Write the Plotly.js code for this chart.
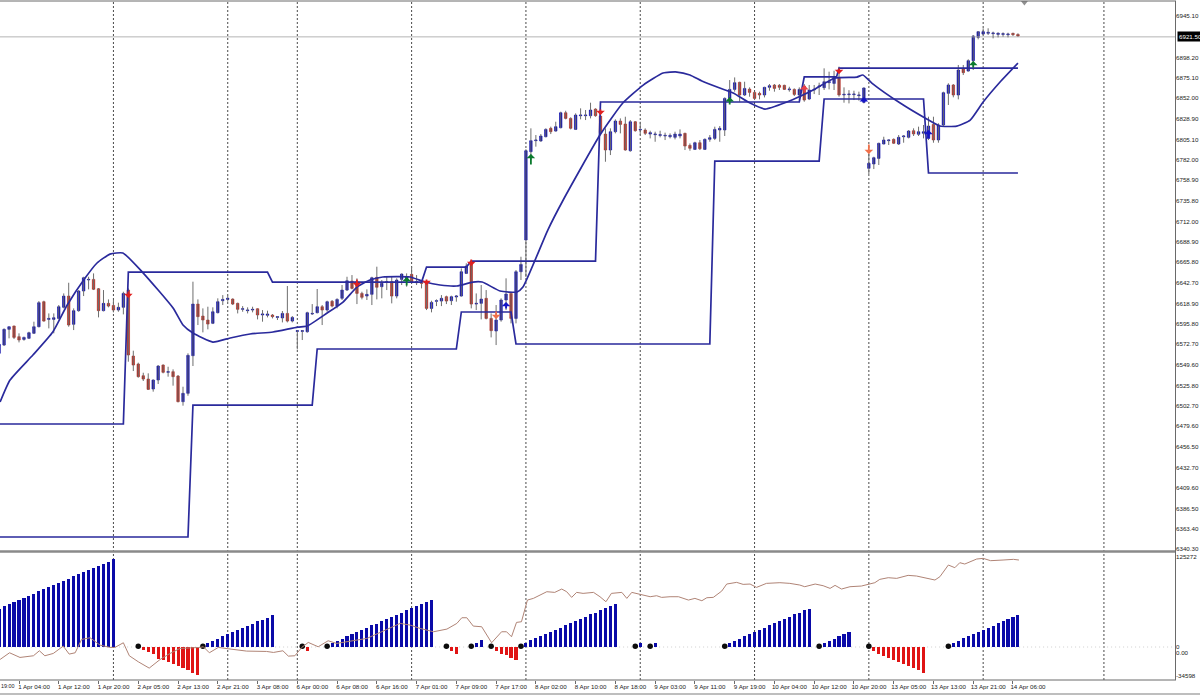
<!DOCTYPE html>
<html><head><meta charset="utf-8">
<script src="https://cdn.plot.ly/plotly-3.0.1.min.js"></script>
<style>html,body{margin:0;padding:0;background:#fff}#c{width:1200px;height:696px}</style>
</head><body><div id="c"></div>
<script>
const open=[6562.4,6571.8,6589.6,6593.4,6581.3,6578.2,6579.4,6585.1,6592.6,6621,
6600.9,6600.9,6602,6614.6,6627.4,6595.3,6610.8,6633.1,6645.6,6646.3,
6635.7,6610.8,6619.1,6616.8,6611.5,6614.6,6634.2,6559.3,6550.3,6537,
6533.2,6521.9,6532.1,6549.1,6540.8,6541.6,6536.6,6507.5,6517,6559.7,
6618.3,6604.7,6600.2,6596.4,6608.5,6622.1,6623.6,6624,6619.1,6612.3,
6610.8,6611.5,6613,6605.9,6605.5,6605.9,6603.2,6602.5,6607.7,6599,
6587.3,6587.3,6586.9,6607,6608.5,6615.3,6611.5,6621.4,6616,6624.8,
6634.2,6644.4,6643.7,6630.4,6627.4,6629.3,6648.6,6638,6642.9,6643.7,
6627.4,6646.3,6645.6,6652,6642.5,6642.9,6643.7,6613.4,6621.4,6621.7,
6626.7,6622.1,6626.3,6627.4,6653.1,6666.4,6618.3,6619.1,6624.8,6602,
6587.7,6600.2,6622.9,6630.4,6602,6655,6691,6791.2,6803.7,6803.3,
6808.2,6817.7,6814.6,6818.4,6835.4,6829,6816.5,6832,6832,6832,
6839.6,6831.6,6811.2,6793.1,6813.9,6826,6822.6,6792.3,6825.2,6815.8,
6815.8,6811.2,6810.5,6809.7,6809,6808.2,6807.5,6809,6812,6798.4,
6793.8,6801.4,6793.8,6805.2,6806.3,6815.8,6815.8,6851.7,6861.9,6869.9,
6855.5,6862.3,6858.5,6857.4,6855.5,6864.2,6866.8,6866.5,6866.5,6861.5,
6861.9,6855.5,6865.7,6851,6861.2,6865,6863.8,6869.5,6868.7,6875.6,
6855.5,6855.9,6855.9,6854.8,6847.2,6772.3,6777.2,6783.6,6799.9,6803.7,
6805.2,6799.9,6808.2,6807.5,6815,6810.9,6812,6806.3,6822.2,6804.5,
6821.5,6857.4,6866.9,6855.5,6885,6882.7,6894.5,6920.9,6924.7,6925.5,
6925.1,6924.3,6924.3,6923.9,6925.5,6924.3];
const close=[6572.6,6589.6,6592.6,6580.5,6577.5,6580.5,6585.8,6592.6,6619.9,6599,
6602,6602.8,6615.3,6627.4,6594.5,6610.8,6633.1,6648.2,6646.3,6635,
6610.8,6619.1,6616,6611.5,6614.6,6630.4,6560.5,6549.1,6535.9,6533.2,
6521.5,6532.1,6548,6540.8,6541.6,6535.9,6507.5,6517,6560.1,6618.3,
6604,6600.2,6595.6,6609.6,6621,6623.6,6624.8,6618.3,6612.3,6613,
6611.5,6612.3,6605.9,6607,6607,6604,6604,6607.7,6599,6603.2,
6588.1,6588.1,6608.5,6607.7,6615.3,6611.5,6621,6616,6623.6,6634.2,
6644.8,6636.1,6630.4,6625.9,6629.3,6648.2,6637.3,6641.8,6643.7,6627.4,
6645.6,6652.4,6649.3,6642.9,6643.7,6641.8,6613.4,6620.2,6622.1,6624.8,
6621.7,6626.7,6627.4,6655,6661.4,6618.3,6619.1,6624,6602,6588.1,
6600.2,6622.9,6629.7,6602,6655,6663.3,6792.3,6803.7,6804.4,6809,
6816.5,6813.9,6819.6,6835.4,6829,6817.7,6832.8,6832.8,6832.8,6838.5,
6832,6812.8,6793.1,6813.9,6826,6822.2,6793.1,6825.2,6815,6816.5,
6812,6812.8,6811.2,6810.5,6809.7,6809.7,6811.2,6811.2,6797.6,6795,
6801.4,6794.6,6805.2,6807.1,6816.5,6817.7,6851.7,6861.9,6869.5,6855.5,
6863,6858.5,6851.7,6855.5,6864.2,6866.1,6863,6864.2,6861.9,6862.3,
6856.2,6861.9,6849.8,6861.2,6861.9,6865.7,6870.6,6870.6,6875.6,6855.5,
6856.3,6856.6,6856.6,6855.5,6863.5,6778,6784.4,6800.7,6804.5,6804.5,
6800.7,6807.5,6809,6814.7,6811.3,6813.9,6813.9,6820.3,6804.5,6821.5,
6858.2,6866.9,6855.5,6883.9,6880.9,6894.5,6922.5,6927.4,6927.4,6926.6,
6925.9,6925.5,6925.1,6924.7,6924,6922.4];
const high=[6573.7,6590.7,6592.6,6593.8,6585.1,6581.3,6586.9,6598.3,6621.7,6622.1,
6607.7,6607.7,6617.2,6630.4,6642.5,6613.4,6634.2,6649.3,6649.3,6653.1,
6636.5,6634.2,6623.6,6622.9,6619.9,6632.3,6636.1,6565.4,6551.8,6540.4,
6539.7,6532.9,6549.1,6549.9,6547.2,6544.2,6537.8,6524.5,6562.4,6643.7,
6623.6,6613.4,6615.3,6614.6,6624.8,6628.5,6627.8,6624.8,6619.9,6616,
6614.6,6615.3,6613.4,6611.5,6610.8,6607,6604.7,6610.4,6638.8,6604.7,
6588.8,6588.8,6609.6,6618.3,6635.4,6617.2,6622.1,6622.9,6624.8,6639.9,
6649.3,6651.2,6647.5,6632.3,6635,6649.3,6660.7,6645.6,6649.3,6649.3,
6647.5,6653.1,6653.1,6660.7,6651.2,6645.6,6645.6,6622.1,6623.6,6628.5,
6627.8,6627.8,6628.5,6658.8,6664.5,6668.3,6630.4,6639.9,6634.2,6607.7,
6617.2,6624.8,6647.5,6632.3,6656.9,6672,6794,6817.7,6810.1,6811.2,
6817.7,6819.6,6825.2,6836.6,6837.7,6830.2,6834.7,6840.4,6838.5,6846.8,
6840.4,6847.9,6817.7,6817.7,6827.9,6829,6830.9,6827.1,6826,6825.2,
6817.7,6815,6813.9,6815,6812.8,6812,6813.9,6816.5,6812.8,6800.6,
6802.5,6804.4,6806.3,6810.1,6819.6,6820.3,6852.8,6872.5,6875.5,6870.6,
6870.6,6864.2,6859.3,6859.3,6864.9,6868,6868,6868,6867.2,6864.9,
6863,6864.2,6868,6866.9,6866.9,6869.5,6885.8,6882,6883.1,6887.7,
6864.2,6861,6860.4,6859.3,6864.2,6789.3,6785.5,6801.4,6808.2,6805.2,
6806.3,6810.1,6810.1,6815.8,6817.7,6819.6,6821.5,6830.9,6830.9,6823.4,
6859.3,6868.8,6868,6889.6,6889.6,6896,6923.6,6928.1,6931.2,6931.2,
6927.4,6926.6,6926.6,6926.2,6926.2,6925.5];
const low=[6560.5,6570.7,6579.4,6578.6,6574.8,6576.7,6578.6,6584.3,6591.9,6598.3,
6590.7,6585.1,6600.9,6613.4,6592.6,6588.8,6609.6,6627.4,6635,6634.2,
6603.2,6610,6614.6,6608.9,6609.6,6606.6,6552.9,6542.3,6534.8,6531,
6520.8,6518.9,6527.6,6539.7,6535.9,6525.7,6506.8,6503,6514.3,6548,
6594.5,6586.2,6589.6,6595.6,6607.7,6617.2,6621,6617.2,6607.7,6609.6,
6607.7,6608.9,6600.9,6598.3,6603.2,6602,6600.2,6597.5,6597.5,6597.5,
6566.9,6577.5,6585.8,6605.9,6607.7,6594.5,6609.6,6614.6,6613.4,6622.9,
6633.1,6635,6618.3,6623.6,6622.9,6617.2,6623.6,6624.8,6634.2,6619.1,
6624.8,6639.9,6638,6641.8,6639.9,6636.1,6611.5,6608.9,6616,6616,
6618.3,6617.2,6621,6626.7,6652.4,6613.4,6611.5,6600.9,6600.9,6580.5,
6571.8,6598.3,6611.5,6596.4,6596.4,6645.6,6649,6781.7,6796.9,6802.5,
6807.5,6811.2,6813.9,6817.7,6827.9,6816.5,6815.8,6827.9,6827.1,6829,
6830.9,6810.1,6779.8,6787.4,6812,6812,6792.3,6791.2,6813.9,6810.1,
6810.1,6806.3,6802.5,6807.5,6804.4,6806.3,6805.2,6806.3,6793.1,6792.3,
6793.1,6793.1,6793.1,6802.5,6804.4,6802.5,6809,6847.9,6859.3,6847.9,
6854.4,6853.6,6849.8,6850.6,6852.8,6860.4,6859.3,6861.2,6861.2,6859.3,
6854.4,6849.8,6847.9,6849.8,6856.6,6855.5,6861.2,6861.9,6861.2,6853.6,
6846.8,6846,6849.8,6849.1,6846,6765.9,6771.5,6776.1,6799.5,6798.8,
6799.9,6798.8,6801.4,6806.3,6809,6809,6806.3,6804.4,6801.4,6801.4,
6820.3,6844.2,6852.9,6850.6,6878.2,6882,6883.9,6918.7,6923.6,6923.6,
6919.8,6920.9,6921.7,6920.9,6922.5,6921.7];

const lowerX=[0,38,39,63,64,92,93,103,104,143,144,165,166,186,187,205];
const lowerY=[6354,6354,6503.7,6503.7,6567.3,6567.3,6609.3,6609.3,6573,6573,6780.6,6780.6,6851,6851,6767,6767];
const upperX=[0,25,26,54,55,85,86,94,95,120,121,161,162,168.5,169,205];
const upperY=[6482.2,6482.2,6654.6,6654.6,6643.3,6643.3,6660.3,6660.3,6667.1,6667.1,6847.6,6847.6,6876,6876,6886.1,6886.1];
const maX=[0.2,2.2,6.8,10.8,13.7,17.3,19.7,22.3,24.9,29,35,37,39,43,46.5,50.5,55.1,60.1,62,66,69.2,72,74.6,77.2,82.7,85.7,88.7,92.1,95.3,97.2,100.8,104.2,105.4,110.4,113.5,120.9,125.5,129.6,133.6,136.4,139,141.4,145,147.7,151.1,154.1,158.5,161.3,163.8,168.2,172.6,173.8,175.6,181.3,186.3,189.3,192.7,195.4,198,201.4,205];
const maY=[6507.2,6532.1,6560.5,6586.6,6617.2,6647.8,6664.9,6675,6676.2,6653.5,6613.8,6594.5,6585.4,6575.2,6579.8,6584.3,6586.6,6592.2,6593.4,6608.1,6620.6,6637.6,6645.6,6649,6649,6643.3,6639.9,6638.8,6643.3,6643.3,6633.1,6632,6637.6,6702.3,6736.4,6810.1,6846.4,6866.8,6880.5,6881.6,6878.2,6871.4,6863.4,6857.8,6846.4,6839.6,6847.6,6854.4,6861.2,6874.8,6875.9,6878.2,6869.1,6846.4,6829.4,6820.3,6820.3,6827.1,6847.6,6870.3,6891.8];

const histStart=[48300,51240,53760,56700,59640,61740,64680,67200,70560,72660,75600,78540,81060,83580,86100,89040,91560,94080,96600,99540,101640,104160,106680,110460];
const hist=[].concat(histStart,[0,0,0,0,0],
[-4200,-6300,-9240,-14700,-16800,-18900,-21840,-24360,-26880,-29400,-32340,-34860],[0],
[5040,7140,10500,13440,15960,18480,21840,23940,26880,29400,32760,34440,36960,40740],[0,0,0,0,0,0],
[-5040],[0,0,0,0],
[5040,7560,10500,13860,16800,18900,21840,24360,27300,29400,32340,34860,37380,40740,43260,46200,49140,51660,54600,56700,59640],[0,0,0],
[-5040,-8400],[0,0,0],[5040,8400],[0,0],[-5040,-8400,-10500,-13440,-15960],[0],
[5040,8400,11340,13860,16800,18900,21840,24360,27300,29820,33180,35280,37800,41160,43260,46200,48720,51660,54600],[0,0,0,0],
[5460],[0,0],[5040],[0,0,0,0,0,0,0,0,0,0,0,0,0,0],
[5040,7140,10500,13860,15960,18900,21840,24360,27300,29820,32760,34860,37800,41160,43260,46200,48300],[0,0],
[5040,7140,10500,13440,16380,18900],[0,0,0,0],
[-5040,-8400,-11340,-13860,-16800,-18900,-21840,-23940,-26880,-29400,-32340],[0,0,0,0,0],
[5460,7980,10920,13860,15960,18900,21840,24360,26880,29820,32760,35280,37800,40740]);
const dotX=[28,41,61,66,90,95,99,105,128,131,146,165,175,191];
const dotY=[840,840,840,840,840,840,840,840,840,840,840,840,840,840];

const brownX=[0.2,2.1,4.2,6.9,8.1,9.2,10.9,12.9,14.1,15.3,16.6,18.3,20.3,22.3,23.3,25,26.2,28,30.2,32.4,34.4,36.4,40.4,41.1,42.3,44.1,46.1,49.8,53.8,55.2,57.1,58.2,59.5,60.9,62.2,64.2,66.2,67.9,74,77.3,80.7,82.7,84.7,87.4,90.1,92.1,93.1,94.1,95.4,97.1,99.1,101.1,102.1,103.1,104.1,105.1,106.3,107.5,110.2,111.8,113.2,114.2,115.2,116.2,117.5,119.6,120.9,122.1,123.2,125.3,126.3,127.3,129,131,132.3,133.3,135,136.7,138.7,140,141.4,142.4,143.7,145.4,146.4,148.4,149.7,151.1,152.4,154.4,157.1,159.1,161.1,162.1,164.2,165.8,167.2,168.2,169.5,171.2,173.5,175.2,176.2,177.2,178.9,180.6,182.9,184.6,187,188.3,189.3,191,192.3,193.3,194.3,196.7,198,199.5,202,204.1,205.2];
const brownY=[-8720,-320,-6200,-4100,2200,-4100,-1160,8080,-2000,-320,16480,18580,9340,6400,6400,12280,-4100,-11660,-19640,-8720,-1160,5140,6400,7240,-320,6400,4720,1780,1360,100,2200,-4520,-4100,6400,12700,7240,14800,11440,17740,27400,36640,34540,30340,26140,29500,36640,43780,43780,33280,32440,12280,26140,26140,19840,37900,38740,66040,68140,76540,75700,79900,76540,69400,75700,74440,75700,70240,63940,74440,75700,68140,75700,73180,70240,71500,69400,70240,70240,66040,68140,65200,68980,69400,77380,86200,88300,85780,86200,82000,87040,87880,87040,84940,82840,86200,84100,80740,84520,79900,82840,83680,85780,87880,92080,94180,93340,97120,96280,92920,91240,95440,110140,106780,113080,111400,117700,118540,115600,116440,117280,116440];

const priceTicks=[6945.10,6898.20,6875.10,6852.00,6828.90,6805.10,6782.00,6758.90,6735.80,6712.00,6688.90,6665.80,6642.70,6618.90,6595.80,6572.70,6549.60,6525.80,6502.70,6479.60,6456.50,6432.70,6409.60,6386.50,6363.40,6340.30];
const lastPrice=6921.5;
const timeTickX=[4,12,20,28,36,44,52,60,68,76,84,92,100,108,116,124,132,140,148,156,164,172,180,188,196,204];
const timeTickText=["1 Apr 04:00","1 Apr 12:00","1 Apr 20:00","2 Apr 05:00","2 Apr 13:00","2 Apr 21:00","3 Apr 08:00","6 Apr 00:00","6 Apr 08:00","6 Apr 16:00","7 Apr 01:00","7 Apr 09:00","7 Apr 17:00","8 Apr 02:00","8 Apr 10:00","8 Apr 18:00","9 Apr 03:00","9 Apr 11:00","9 Apr 19:00","10 Apr 04:00","10 Apr 12:00","10 Apr 20:00","13 Apr 05:00","13 Apr 13:00","13 Apr 21:00","14 Apr 06:00"];
const daySeparators=[23,46,60,83,106,129,152,175,198,222.3];

const arrowX=[107,26,72,82,86,95,100,102,121,147,162,169,174,175,187,196];
const arrowTip=[6788.6,6625.2,6637.6,6649,6639.9,6661.5,6601.3,6620.6,6832.8,6853.2,6866.8,6879.3,6853.2,6788.6,6815.8,6894.1];
const arrowDir=[1,-1,-1,1,-1,-1,-1,1,-1,1,1,-1,1,-1,1,1];
const arrowColor=["#0b7a2e","#e02020","#e02020","#0b7a2e","#e02020","#e02020","#f0704a","#1414c8","#e02020","#0b7a2e","#e8404a","#e02020","#1414c8","#f0704a","#1414c8","#0b7a2e"];
const arrowLen=[12,8,9,10,7,8,9,8,7,9,9,7,7,11,10,8];

const FONT="Liberation Sans, Arial, sans-serif";
const xs=open.map((_,i)=>i);
const wickX=[],wickY=[];
xs.forEach(i=>{wickX.push(i,i,null);wickY.push(high[i],low[i],null);});
const lineStyle={color:'#2a2a9c',width:1.7};
const hy=(px)=>(696-px)/696;

const traces=[
 {type:'scatter',mode:'lines',x:[0,236.6],y:[lastPrice,lastPrice],line:{color:'#b4b4b4',width:1},hoverinfo:'skip',yaxis:'y'},
 {type:'scatter',mode:'lines',x:wickX,y:wickY,line:{color:'#6e6e6e',width:1},connectgaps:false,hoverinfo:'skip',yaxis:'y'},
 {type:'candlestick',x:xs,open:open,close:close,
  high:xs.map(i=>Math.max(open[i],close[i])),low:xs.map(i=>Math.min(open[i],close[i])),
  increasing:{fillcolor:'#0a0aa8',line:{color:'#0a0aa8',width:0.6}},
  decreasing:{fillcolor:'#b02a20',line:{color:'#b02a20',width:0.6}},
  whiskerwidth:0,hoverinfo:'skip',yaxis:'y'},
 {type:'scatter',mode:'lines',x:lowerX,y:lowerY,line:lineStyle,hoverinfo:'skip',yaxis:'y'},
 {type:'scatter',mode:'lines',x:upperX,y:upperY,line:lineStyle,hoverinfo:'skip',yaxis:'y'},
 {type:'scatter',mode:'lines',x:maX,y:maY,line:Object.assign({shape:'spline',smoothing:0.5},lineStyle),hoverinfo:'skip',yaxis:'y'},
 {type:'scatter',mode:'markers',x:[206.3],y:[6961],marker:{symbol:'triangle-down',size:7,color:'#909090'},hoverinfo:'skip',yaxis:'y'},
 {type:'bar',x:xs,y:hist,width:0.62,marker:{color:hist.map(v=>v<0?'#e01414':'#0a0aa8'),line:{width:0}},hoverinfo:'skip',yaxis:'y2'},
 {type:'scatter',mode:'markers',x:dotX,y:dotY,marker:{color:'#0c0c0c',size:5.5},hoverinfo:'skip',yaxis:'y2'},
 {type:'scatter',mode:'lines',x:brownX,y:brownY,line:{color:'#b08476',width:1},hoverinfo:'skip',yaxis:'y3'}
];

const annotations=arrowX.map((x,k)=>({x:x,y:arrowTip[k],xref:'x',yref:'y',text:'',showarrow:true,ax:0,ay:arrowDir[k]*arrowLen[k],
  arrowhead:1,arrowsize:0.8,arrowwidth:1.8,arrowcolor:arrowColor[k],standoff:0}));
annotations.push({xref:'paper',yref:'y',x:1177/1200,y:lastPrice,xanchor:'left',yanchor:'middle',showarrow:false,text:'6921.50',
  bgcolor:'#000',font:{family:FONT,size:6.2,color:'#fff'},borderpad:1});
annotations.push({xref:'paper',yref:'paper',x:0,y:hy(686),xanchor:'left',yanchor:'middle',showarrow:false,text:'19:00',borderpad:0,
  font:{family:FONT,size:5.4,color:'#222'}});

const dark='#6a6a6a';
const shapes=daySeparators.map(v=>({type:'line',xref:'x',yref:'paper',x0:v,x1:v,y0:hy(680),y1:hy(1),layer:'below',
   line:{color:'#4a4a4a',width:1,dash:'2px,2px'}}));
shapes.push({type:'line',xref:'x',yref:'y2',x0:0,x1:236.6,y0:0,y1:0,layer:'below',line:{color:'#cfcfcf',width:1,dash:'1px,3px'}});
[[1,1176,dark,1],[551.5,1176,'#8a8a8a',2.6],[680,1176,dark,1],[694,1200,'#a8a8a8',1.4]].forEach(s=>
  shapes.push({type:'line',xref:'paper',yref:'paper',x0:0,x1:s[1]/1200,y0:hy(s[0]),y1:hy(s[0]),line:{color:s[2],width:s[3]}}));
shapes.push({type:'line',xref:'paper',yref:'paper',x0:1175.5/1200,x1:1175.5/1200,y0:hy(680),y1:hy(1),line:{color:dark,width:1}});

const tickFont={family:FONT,size:6.2,color:'#222'};
const layout={width:1200,height:696,margin:{l:0,r:0,t:0,b:0},paper_bgcolor:'#fff',plot_bgcolor:'#fff',showlegend:false,
 bargap:0,annotations:annotations,shapes:shapes,
 xaxis:{domain:[0,1175/1200],range:[0.177,236.6],anchor:'y2',tickmode:'array',tickvals:timeTickX,ticktext:timeTickText,
   ticks:'outside',ticklen:3,tickcolor:dark,tickwidth:1,ticklabelshift:15,ticklabelstandoff:-2,tickfont:tickFont,tickangle:0,
   showgrid:false,zeroline:false,showline:false,rangeslider:{visible:false},fixedrange:true},
 yaxis:{domain:[hy(551),hy(1)],range:[6338.1,6962.2],side:'right',anchor:'x',tickmode:'array',tickvals:priceTicks,
   ticktext:priceTicks.map(v=>v.toFixed(2)),ticks:'',tickfont:tickFont,
   showgrid:false,zeroline:false,showline:false,fixedrange:true},
 yaxis2:{domain:[hy(680),hy(553)],range:[-41547,118346],side:'right',anchor:'x',tickmode:'array',tickvals:[0],ticktext:['0'],
   ticks:'',tickfont:tickFont,showgrid:false,zeroline:false,showline:false,fixedrange:true},
 yaxis3:{overlaying:'y2',range:[-34598,125272],side:'right',anchor:'x',tickmode:'array',tickvals:[120236,0,-29562],
   ticktext:['125272','0.00','-34598'],ticks:'',tickfont:tickFont,showgrid:false,zeroline:false,showline:false,fixedrange:true}
};
Plotly.newPlot('c',traces,layout,{displayModeBar:false,staticPlot:true});
</script></body></html>
